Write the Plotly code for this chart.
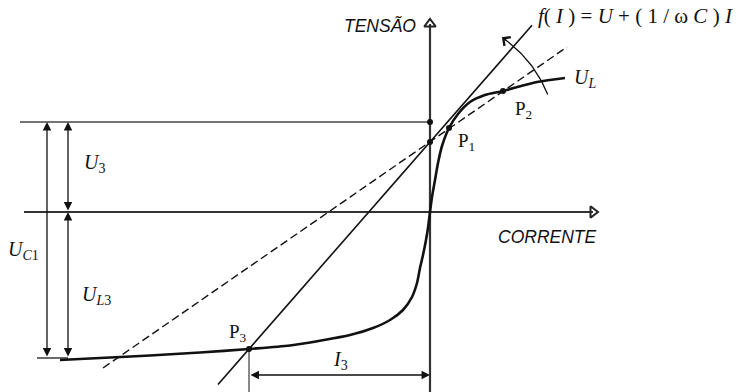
import numpy as np
import plotly.graph_objects as go

# Saturation characteristic U_L(I) of the iron-core inductor (current I, voltage U)
curve_I = [-370, -330, -280, -230, -181, -140, -110, -80, -57, -40, -27, -18, -13, -10, -7, -4,
           -2, 0, 2, 5, 8, 12, 19, 28, 40, 55, 73, 107, 135]
curve_U = [-148, -146, -143.5, -140.5, -137, -133.5, -128.7, -123, -116, -108, -98, -85, -71,
           -56, -43, -28, -16, 0, 15, 32, 49, 66, 84, 98, 110, 117, 121, 130, 134]

# Capacitor line f(I) = U + (1/wC) I  (solid) and the rotated position (dashed)
cap_line_I = [-212, 102]
cap_line_U = [-172.5, 186.7]
cap_dash_I = [-327, 137]
cap_dash_U = [-156, 165]

# Operating points
pts_I = [19, 73, -181]
pts_U = [84, 121, -137]
pts_names = ["P<sub>1</sub>", "P<sub>2</sub>", "P<sub>3</sub>"]
axis_dots_I = [0, 0]
axis_dots_U = [90, 70]

# Reference levels
U_top = 90        # upper end of U_C1 / U_3
U_bottom = -146   # lower end of U_C1 / U_L3
I3_level = -163   # height of the I_3 dimension arrow

BLACK = "#111111"
GREY = "#444444"
SERIF = "Liberation Serif, Times New Roman, serif"
SANS = "Liberation Sans, Arial, sans-serif"

fig = go.Figure()


def seg(xs, ys, color=BLACK, width=1.5, dash="solid", shape="linear", smoothing=1.0):
    fig.add_trace(go.Scatter(x=xs, y=ys, mode="lines", hoverinfo="skip",
                             line=dict(color=color, width=width, dash=dash, shape=shape,
                                       smoothing=smoothing)))


# coordinate axes with open arrow heads
seg([-406, 163], [0, 0], color="#333333", width=2.2)
seg([0, 0], [-180, 188], color="#333333", width=2.2)
fig.add_trace(go.Scatter(x=[163], y=[0], mode="markers", hoverinfo="skip",
                         marker=dict(symbol="triangle-right-open", size=10, color="#222222",
                                     line=dict(width=2, color="#222222"))))
fig.add_trace(go.Scatter(x=[0], y=[188], mode="markers", hoverinfo="skip",
                         marker=dict(symbol="triangle-up-open", size=10, color="#222222",
                                     line=dict(width=2, color="#222222"))))

# reference levels
seg([-410, 0], [U_top, U_top], color=GREY, width=1.6)
seg([-393, -362], [U_bottom, U_bottom], color=GREY, width=1.6)

# lines f(I)
seg(cap_dash_I, cap_dash_U, width=1.4, dash="8px,4px")
seg(cap_line_I, cap_line_U, width=1.6)

# U_L curve
seg(curve_I, curve_U, width=2.6, shape="spline", smoothing=0.8)

# vertical line below P3
seg([pts_I[2], pts_I[2]], [pts_U[2], -180], width=1.0)

# rotation arc (capacitor line turning as C changes)
arc_r = 127
ang = np.radians(np.linspace(22, 54, 30))
seg(list(arc_r * np.cos(ang)), list(70 + arc_r * np.sin(ang)), width=1.3)

# points
fig.add_trace(go.Scatter(x=pts_I + axis_dots_I, y=pts_U + axis_dots_U, mode="markers",
                         hoverinfo="skip", marker=dict(color=BLACK, size=6)))

annotations = []


def dim_arrow(x0, y0, x1, y1):
    annotations.append(dict(x=x1, y=y1, ax=x0, ay=y0, xref="x", yref="y", axref="x", ayref="y",
                            text="", showarrow=True, arrowhead=2, startarrowhead=2,
                            arrowside="end+start", arrowsize=1.3, startarrowsize=1.3,
                            arrowwidth=1.3, arrowcolor=BLACK, standoff=0, startstandoff=0))


dim_arrow(-383, U_bottom, -383, U_top)
dim_arrow(-362, 0, -362, U_top)
dim_arrow(-362, U_bottom, -362, 0)
dim_arrow(pts_I[2], I3_level, 0, I3_level)

# arrow head at the upper end of the arc
a_end = np.radians(55.5)
a_pre = np.radians(52)
annotations.append(dict(x=arc_r * np.cos(a_end), y=70 + arc_r * np.sin(a_end),
                        ax=arc_r * np.cos(a_pre), ay=70 + arc_r * np.sin(a_pre),
                        xref="x", yref="y", axref="x", ayref="y", text="", showarrow=True,
                        arrowhead=4, arrowsize=1.6, arrowwidth=1.3, arrowcolor=BLACK, standoff=0))


def label(x, y, text, size=19, font=SERIF, xanchor="center"):
    annotations.append(dict(x=x, y=y, xref="x", yref="y", text=text, showarrow=False,
                            xanchor=xanchor, yanchor="middle",
                            font=dict(family=font, size=size, color=BLACK)))


label(36, 70, pts_names[0])
label(93, 102, pts_names[1])
label(-192, -121, pts_names[2])
label(155, 134, "<i>U<sub>L</sub></i>", size=20)
label(-336, 49, "<i>U</i><sub>3</sub>", size=20)
label(-407, -38, "<i>U<sub>C</sub></i><sub>1</sub>", size=20)
label(-334, -83, "<i>U<sub>L</sub></i><sub>3</sub>", size=20)
label(-90, -148, "<i>I</i><sub>3</sub>", size=20)
label(106, 196, "<i>f</i>( <i>I</i> ) = <i>U</i> + ( 1 / ω <i>C</i> ) <i>I</i>", size=21, xanchor="left")
label(-50, 187, "<i>TENSÃO</i>", size=17.5, font=SANS)
label(117, -25, "<i>CORRENTE</i>", size=17.5, font=SANS)

fig.update_layout(
    width=740, height=392, margin=dict(l=0, r=0, t=0, b=0),
    paper_bgcolor="white", plot_bgcolor="white", showlegend=False,
    xaxis=dict(range=[-430, 310], visible=False, fixedrange=True),
    yaxis=dict(range=[-180, 212], visible=False, fixedrange=True),
    annotations=annotations,
)

fig.write_html("out.html")
